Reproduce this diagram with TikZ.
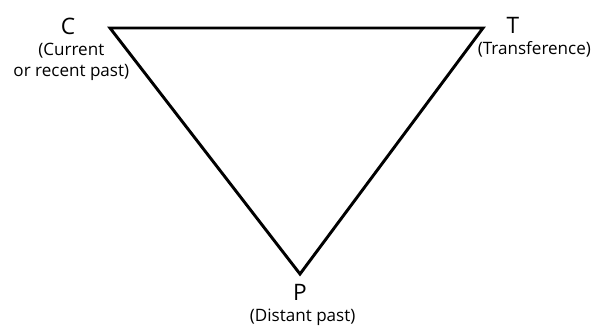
\documentclass[tikz,border=0pt]{standalone}
\usepackage{fontspec}
\setmainfont{Open Sans}
\usetikzlibrary{positioning}
\tikzset{
  corner/.style={inner sep=0pt, font=\fontsize{17}{19}\selectfont},
  gloss/.style={inner sep=0pt, align=center, font=\fontsize{12.8}{15.8}\selectfont}
}
\begin{document}
\begin{tikzpicture}[x=0.75pt, y=-0.75pt]
  \useasboundingbox (0,0) rectangle (603,326);
  % vertices of the triangle
  \coordinate (cv) at (110,28);
  \coordinate (tv) at (483,28);
  \coordinate (pv) at (300,274);
  \draw[line width=2.2pt, line join=miter] (cv) -- (tv) -- (pv) -- cycle;
  % letters
  \node[corner] (c) at (68,26) {C};
  \node[corner] (t) at (513,25) {T};
  \node[corner] (p) at (300,292) {P};
  % glosses
  \node[gloss, below=6pt of c, xshift=2.5pt] (cnote) {(Current\\or recent past)};
  \node[gloss, below=6pt of t, xshift=16pt] (tnote) {(Transference)};
  \node[gloss, below=6pt of p, xshift=2pt] (pnote) {(Distant past)};
\end{tikzpicture}
\end{document}
